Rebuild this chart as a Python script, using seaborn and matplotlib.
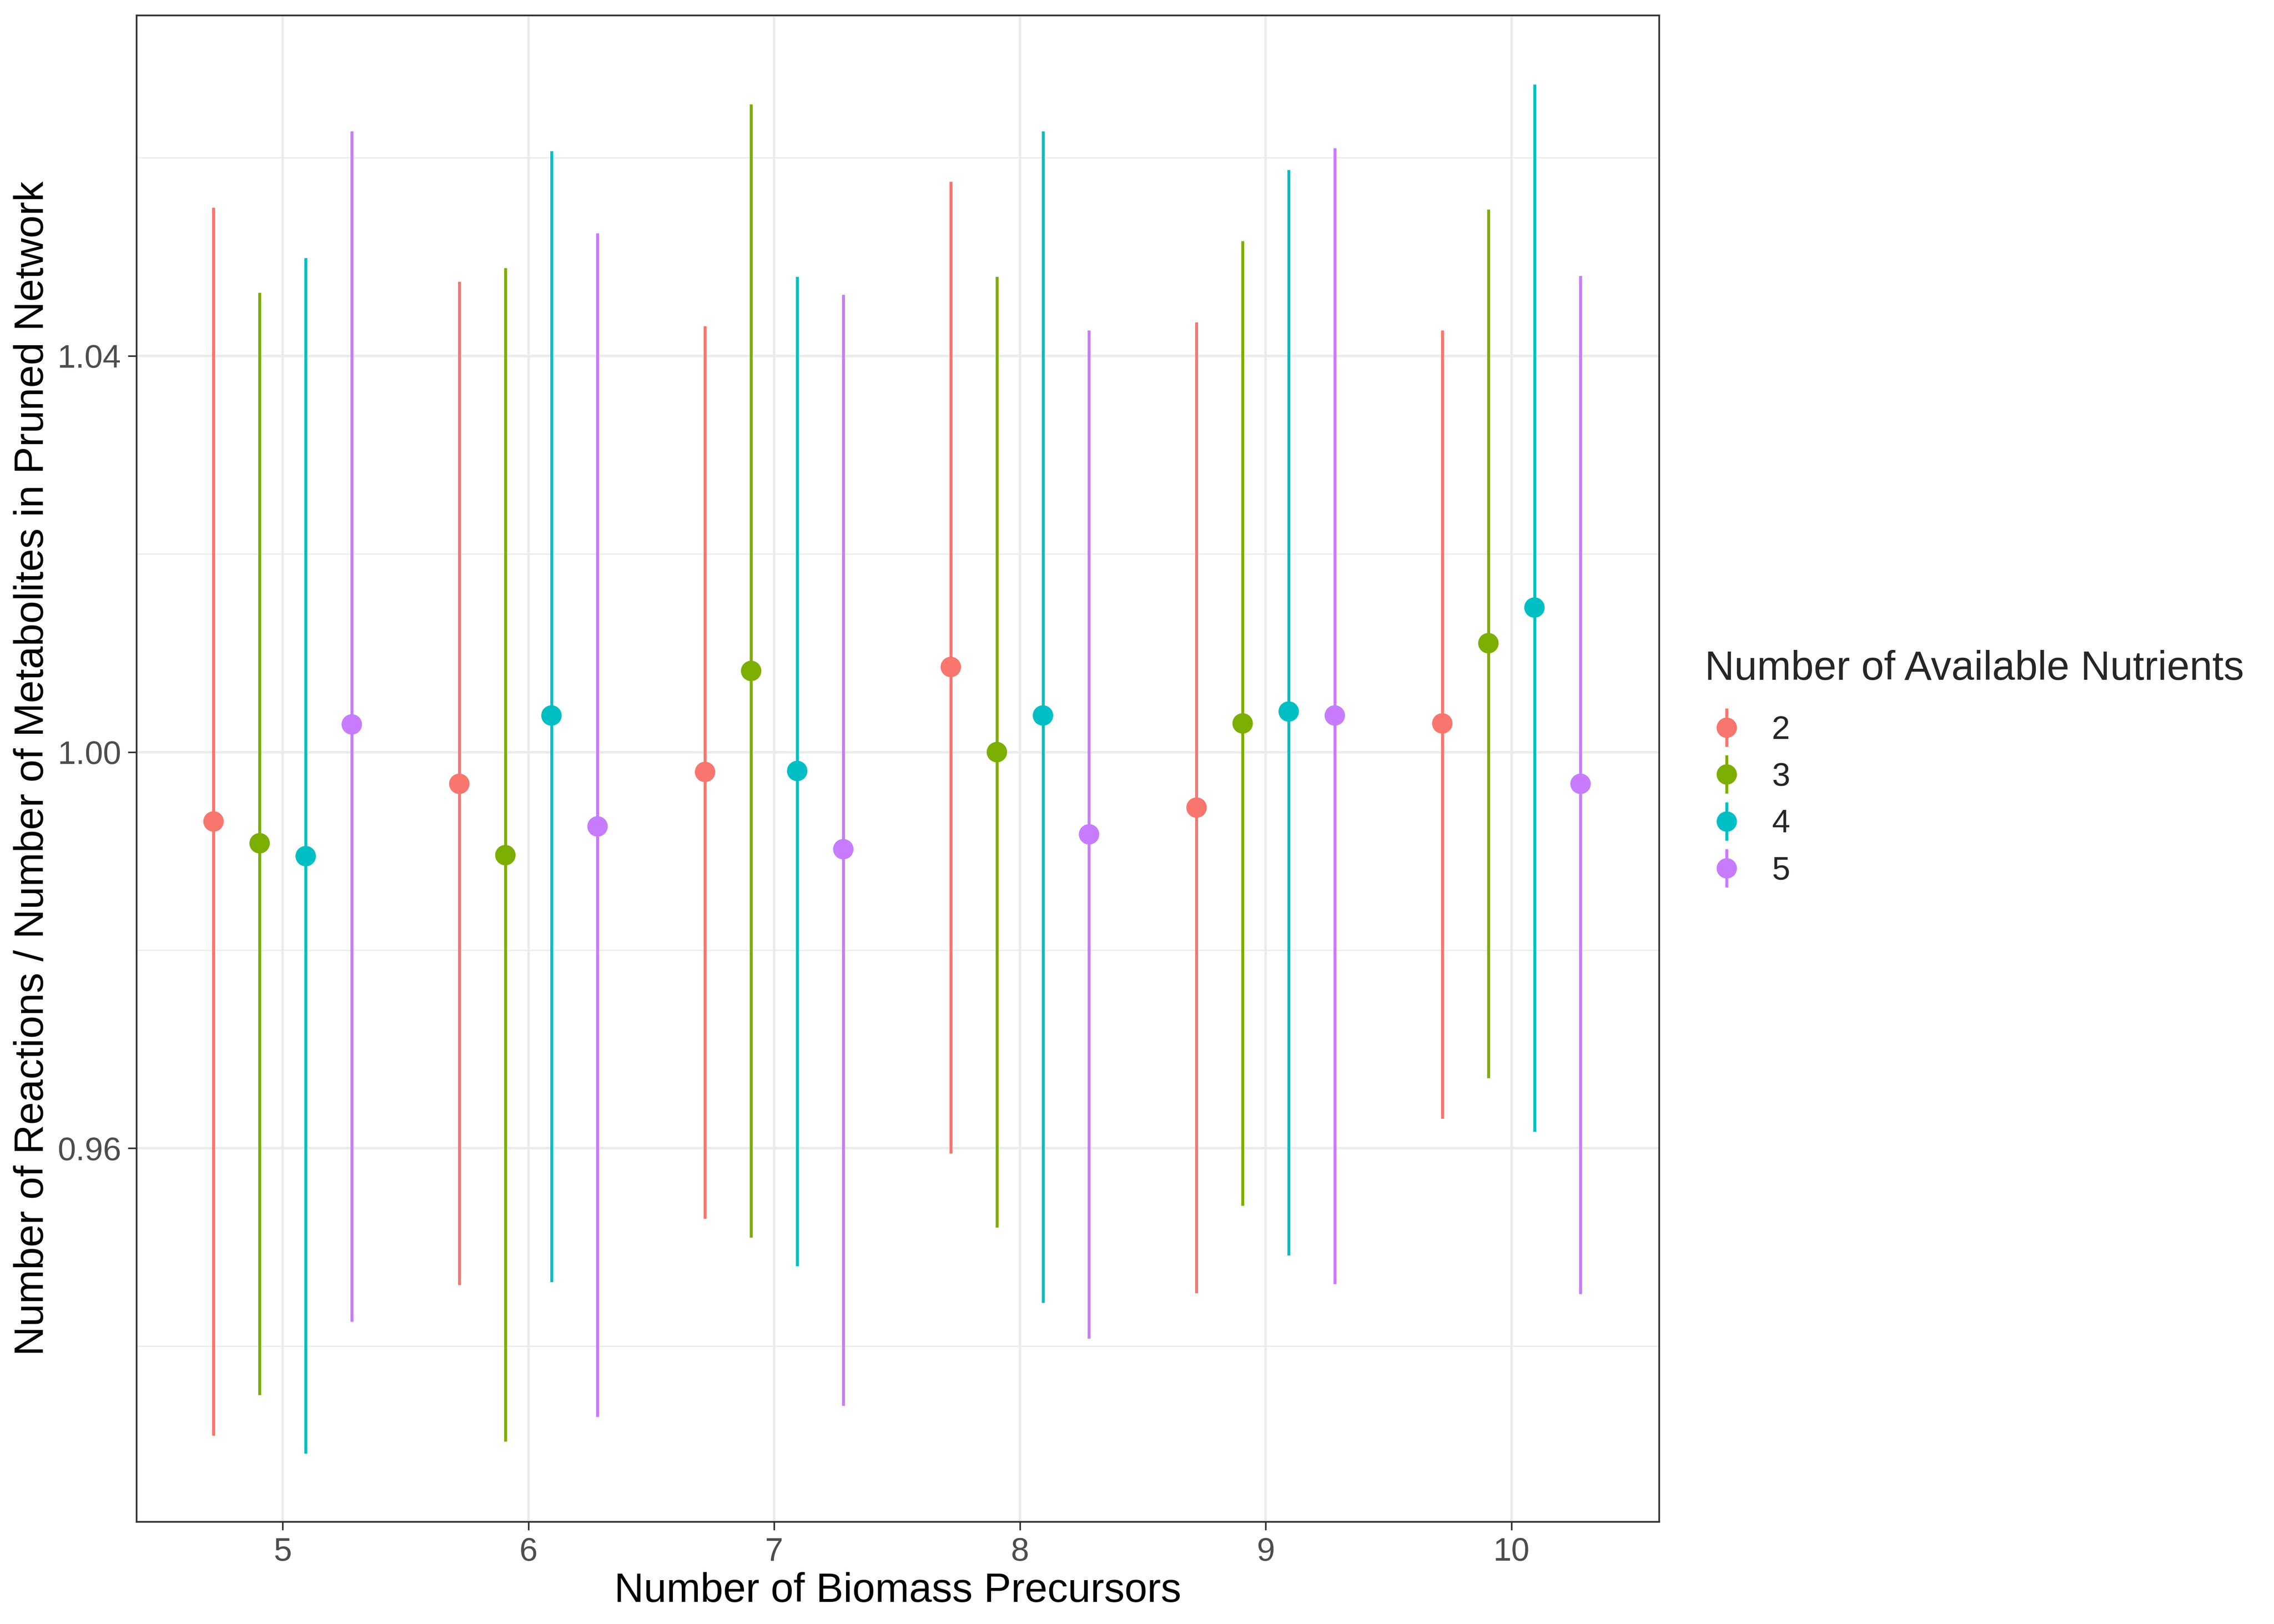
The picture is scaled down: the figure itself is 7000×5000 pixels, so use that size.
import numpy as np
import pandas as pd
import matplotlib
matplotlib.use("Agg")
import matplotlib.pyplot as plt
from matplotlib.lines import Line2D
from matplotlib.legend_handler import HandlerTuple
import seaborn as sns

# Data
precursors = [5, 6, 7, 8, 9, 10]
nutrients = [2, 3, 4, 5]

mean_2 = [0.9930, 0.9968, 0.9980, 1.0086, 0.9944, 1.0029]
lo_2 = [0.9310, 0.9462, 0.9529, 0.9595, 0.9454, 0.9630]
hi_2 = [1.0550, 1.0475, 1.0430, 1.0576, 1.0434, 1.0426]

mean_3 = [0.9908, 0.9896, 1.0082, 1.0000, 1.0029, 1.0110]
lo_3 = [0.9351, 0.9304, 0.9510, 0.9520, 0.9542, 0.9671]
hi_3 = [1.0464, 1.0489, 1.0654, 1.0480, 1.0516, 1.0548]

mean_4 = [0.9895, 1.0037, 0.9981, 1.0037, 1.0041, 1.0146]
lo_4 = [0.9292, 0.9465, 0.9481, 0.9444, 0.9492, 0.9617]
hi_4 = [1.0499, 1.0607, 1.0480, 1.0627, 1.0588, 1.0674]

mean_5 = [1.0028, 0.9925, 0.9902, 0.9917, 1.0037, 0.9968]
lo_5 = [0.9425, 0.9329, 0.9340, 0.9408, 0.9463, 0.9453]
hi_5 = [1.0627, 1.0524, 1.0462, 1.0426, 1.0610, 1.0481]

means = [mean_2, mean_3, mean_4, mean_5]
lows = [lo_2, lo_3, lo_4, lo_5]
highs = [hi_2, hi_3, hi_4, hi_5]

colors = ["#F8766D", "#7CAE00", "#00BFC4", "#C77CFF"]

# long-form table
rows = []
for n, m, lo, hi in zip(nutrients, means, lows, highs):
    for p, a, b, c in zip(precursors, m, lo, hi):
        rows.append({"precursors": p, "nutrients": n, "mean": a, "lo": b, "hi": c})
df = pd.DataFrame(rows)

# dodge like position_dodge(width = 0.75)
dodge_width = 0.75
n_groups = len(nutrients)
offsets = (np.arange(n_groups) - (n_groups - 1) / 2) * dodge_width / n_groups
df["x"] = df["precursors"] + df["nutrients"].map(dict(zip(nutrients, offsets)))

sns.set_theme(style="white")
plt.rcParams["font.family"] = ["Liberation Sans", "DejaVu Sans"]

title_size = 18.1
text_size = 14.5

fig = plt.figure(figsize=(14, 10), dpi=500)
ax = fig.add_axes([0.060, 0.063, 0.6695, 0.9276])

# grid like theme_bw
for yv in [0.94, 0.98, 1.02, 1.06]:
    ax.axhline(yv, color="#EBEBEB", lw=0.55, zorder=0)
for yv in [0.96, 1.00, 1.04]:
    ax.axhline(yv, color="#EBEBEB", lw=1.1, zorder=0)
for xv in precursors:
    ax.axvline(xv, color="#EBEBEB", lw=1.1, zorder=0)

palette = dict(zip(nutrients, colors))
for n in nutrients:
    sub = df[df["nutrients"] == n]
    ax.vlines(sub["x"], sub["lo"], sub["hi"], color=palette[n], lw=1.3, zorder=2)
sns.scatterplot(data=df, x="x", y="mean", hue="nutrients", palette=palette,
                s=82, linewidth=0, legend=False, ax=ax, zorder=3)

ax.set_xlim(4.405, 10.6)
ax.set_ylim(0.9223, 1.0744)
ax.set_xticks(precursors)
ax.set_xticklabels([str(p) for p in precursors])
ax.set_yticks([0.96, 1.00, 1.04])
ax.set_yticklabels(["0.96", "1.00", "1.04"])
ax.tick_params(axis="both", which="major", length=3.8, width=0.7, color="#333333",
               labelsize=text_size, labelcolor="#4D4D4D", pad=3, direction="out",
               bottom=True, left=True)
for s in ax.spines.values():
    s.set_visible(True)
    s.set_color("#333333")
    s.set_linewidth(0.75)

ax.set_xlabel("Number of Biomass Precursors", fontsize=title_size, color="black", labelpad=2)
ax.set_ylabel("Number of Reactions / Number of Metabolites in Pruned Network",
              fontsize=title_size, color="black", labelpad=2.5)

# legend
handles = []
for n in nutrients:
    bar = Line2D([], [], marker="|", markersize=17, markeredgewidth=1.3,
                 linestyle="none", color=palette[n])
    dot = Line2D([], [], marker="o", markersize=9, markeredgewidth=0,
                 linestyle="none", color=palette[n])
    handles.append((bar, dot))
leg = fig.legend(handles, [str(n) for n in nutrients],
                 handler_map={tuple: HandlerTuple(ndivide=1)},
                 title="Number of Available Nutrients",
                 loc="center left", bbox_to_anchor=(0.7497, 0.527),
                 frameon=False, fontsize=text_size, title_fontsize=title_size,
                 handlelength=1.34, handletextpad=0.71, labelspacing=0.5,
                 borderpad=0, borderaxespad=0)
leg._legend_box.align = "left"
leg._legend_box.sep = 12

fig.savefig("out.png", dpi=500)
